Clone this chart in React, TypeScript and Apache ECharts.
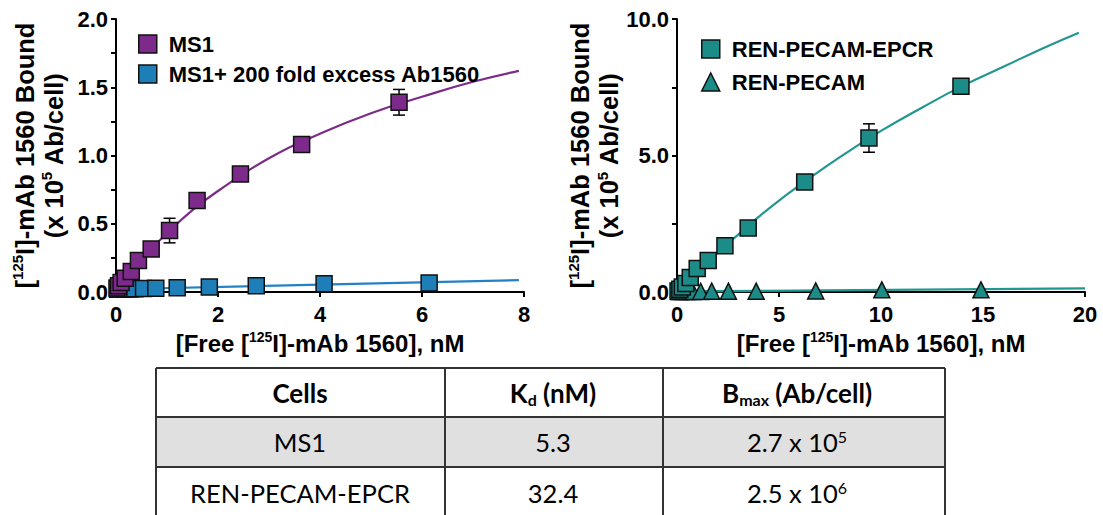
import React, { useEffect, useRef } from 'react';
import * as echarts from 'echarts';

// ---------- Data ----------
// Left panel: MS1 specific binding (purple squares)
const ms1X = [0.02, 0.05, 0.1, 0.18, 0.3, 0.44, 0.69, 1.05, 1.59, 2.44, 3.64, 5.55];
const ms1Y = [0.03, 0.046, 0.07, 0.1, 0.15, 0.23, 0.315, 0.45, 0.67, 0.864, 1.08, 1.39];
const ms1Err = [0, 0, 0, 0, 0, 0, 0, 0.09, 0, 0, 0, 0.094];
const ms1CurveX = [0, 0.25, 0.5, 1, 1.5, 2, 3, 4, 5, 6, 7, 7.9];
const ms1CurveY = [0, 0.12, 0.24, 0.43, 0.6, 0.74, 0.98, 1.16, 1.31, 1.43, 1.54, 1.62];

// Left panel: MS1 + 200 fold excess Ab1560 (blue squares)
const excessX = [0.03, 0.08, 0.17, 0.27, 0.37, 0.54, 0.78, 1.2, 1.83, 2.75, 4.08, 6.14];
const excessY = [0.02, 0.02, 0.022, 0.022, 0.024, 0.025, 0.027, 0.032, 0.037, 0.046, 0.06, 0.066];
const excessLineX = [0, 7.9];
const excessLineY = [0.02, 0.087];

// Right panel: REN-PECAM-EPCR (teal squares)
const epcrX = [0.05, 0.14, 0.26, 0.43, 0.65, 0.99, 1.53, 2.35, 3.49, 6.26, 9.41, 13.92];
const epcrY = [0.04, 0.1, 0.18, 0.31, 0.53, 0.86, 1.15, 1.69, 2.34, 4.03, 5.64, 7.54];
const epcrErr = [0, 0, 0, 0, 0, 0, 0, 0, 0, 0, 0.52, 0];
const epcrCurveX = [0, 1, 2, 3, 4, 5, 6, 8, 10, 12, 14, 16, 18, 19.7];
const epcrCurveY = [0, 0.75, 1.45, 2.1, 2.75, 3.35, 3.9, 4.95, 5.9, 6.75, 7.55, 8.25, 8.95, 9.5];

// Right panel: REN-PECAM (teal triangles)
const pecamX = [0.09, 0.17, 0.31, 0.51, 0.77, 1.16, 1.7, 2.52, 3.88, 6.8, 10.04, 14.9];
const pecamY = [0.02, 0.02, 0.02, 0.02, 0.02, 0.02, 0.03, 0.03, 0.03, 0.04, 0.08, 0.08];
const pecamLineX = [0, 20];
const pecamLineY = [0.02, 0.13];

// Axis ticks
const leftXTicks = { min: 0, max: 8, interval: 2 };
const leftYTicks = { min: 0, max: 2, interval: 0.5 };
const rightXTicks = { min: 0, max: 20, interval: 5 };
const rightYTicks = { min: 0, max: 10, interval: 5 };

// Legend names
const legendLeft = ['MS1', 'MS1+ 200 fold excess Ab1560'];
const legendRight = ['REN-PECAM-EPCR', 'REN-PECAM'];

// Table
const tableCells = ['MS1', 'REN-PECAM-EPCR'];
const tableKd = ['5.3', '32.4'];
const tableBmaxMant = ['2.7', '2.5'];
const tableBmaxExp = ['5', '6'];

// ---------- Styles ----------
const FONT = '"Liberation Sans", Arial, Helvetica, sans-serif';
const TFONT = 'Lato, "Open Sans", sans-serif';
const PURPLE = '#7d2b8a';
const PURPLE_LINE = '#7b2c86';
const BLUE = '#1e7fb8';
const BLUE_LINE = '#2282c4';
const TEAL = '#1b8c88';
const TEAL_LINE = '#229690';

const zip = (xs: number[], ys: number[]) => xs.map((x, i) => [x, ys[i]]);
const errData = (xs: number[], ys: number[], es: number[]) =>
  xs.map((x, i) => [x, ys[i], es[i]]).filter((d) => d[2] > 0);

const titleRich = {
  t: { fontSize: 24, fontWeight: 'bold', fontFamily: FONT, color: '#000', lineHeight: 27 },
  s: { fontSize: 14, fontWeight: 'bold', fontFamily: FONT, color: '#000', lineHeight: 10, verticalAlign: 'top' },
};
const yTitleRich = {
  t: { fontSize: 25.5, fontWeight: 'bold', fontFamily: FONT, color: '#000', lineHeight: 29 },
  s: { fontSize: 15, fontWeight: 'bold', fontFamily: FONT, color: '#000', lineHeight: 12, verticalAlign: 'top' },
};

const yName = '{t|[}{s|125}{t|I]-mAb 1560 Bound}\n{t|(x 10}{s|5}{t| Ab/cell)}';
const xName = '{t|[Free [}{s|125}{t|I]-mAb 1560], nM}';

function xAxis(gridIndex: number, t: { min: number; max: number; interval: number }) {
  return {
    type: 'value',
    gridIndex,
    min: t.min,
    max: t.max,
    interval: t.interval,
    axisLine: { show: true, onZero: false, lineStyle: { color: '#000', width: 2 } },
    axisTick: { show: true, length: 5, lineStyle: { color: '#000', width: 2 } },
    splitLine: { show: false },
    axisLabel: { color: '#000', fontFamily: FONT, fontWeight: 'bold', fontSize: 22, margin: 11 },
    name: xName,
    nameLocation: 'middle',
    nameGap: 37,
    nameTextStyle: { rich: titleRich },
  };
}

function yAxis(gridIndex: number, t: { min: number; max: number; interval: number }, gap: number) {
  return {
    type: 'value',
    gridIndex,
    min: t.min,
    max: t.max,
    interval: t.interval,
    axisLine: { show: true, onZero: false, lineStyle: { color: '#000', width: 2 } },
    axisTick: { show: true, length: 5, lineStyle: { color: '#000', width: 2 } },
    minorTick: { show: true, splitNumber: 2, length: 5, lineStyle: { color: '#000', width: 2 } },
    splitLine: { show: false },
    minorSplitLine: { show: false },
    axisLabel: {
      color: '#000',
      fontFamily: FONT,
      fontWeight: 'bold',
      fontSize: 22,
      margin: 8,
      formatter: (v: number) => v.toFixed(1),
    },
    name: yName,
    nameLocation: 'middle',
    nameGap: gap,
    nameTextStyle: { rich: yTitleRich },
  };
}

function errorSeries(idx: number, data: number[][]) {
  return {
    type: 'custom',
    xAxisIndex: idx,
    yAxisIndex: idx,
    z: 3,
    silent: true,
    encode: { x: 0, y: 1 },
    data,
    renderItem: (params: any, api: any) => {
      const x = api.value(0);
      const y = api.value(1);
      const e = api.value(2);
      const hi = api.coord([x, y + e]);
      const lo = api.coord([x, y - e]);
      const w = 6;
      const st = { stroke: '#000', lineWidth: 1.5 };
      return {
        type: 'group',
        children: [
          { type: 'line', shape: { x1: hi[0], y1: hi[1], x2: lo[0], y2: lo[1] }, style: st },
          { type: 'line', shape: { x1: hi[0] - w, y1: hi[1], x2: hi[0] + w, y2: hi[1] }, style: st },
          { type: 'line', shape: { x1: lo[0] - w, y1: lo[1], x2: lo[0] + w, y2: lo[1] }, style: st },
        ],
      };
    },
  };
}

function lineSeries(name: string, idx: number, data: number[][], color: string, smooth: boolean) {
  return {
    type: 'line',
    name,
    xAxisIndex: idx,
    yAxisIndex: idx,
    data,
    smooth,
    showSymbol: false,
    symbol: 'none',
    z: 2,
    lineStyle: { color, width: 2.2 },
  };
}

function scatterSeries(name: string, idx: number, data: number[][], color: string, symbol: string, size: number) {
  return {
    type: 'scatter',
    name,
    xAxisIndex: idx,
    yAxisIndex: idx,
    data,
    symbol,
    symbolSize: size,
    z: 4,
    itemStyle: { color, borderColor: '#111', borderWidth: 1.5, opacity: 1 },
  };
}

function legend(names: string[], left: number, top: number, gap: number, icons: string[], colors: string[]) {
  return {
    data: names.map((n, i) => ({ name: n, icon: icons[i], itemStyle: { color: colors[i], borderColor: '#111', borderWidth: 1.5 } })),
    orient: 'vertical',
    left,
    top,
    itemWidth: 18,
    itemHeight: 18,
    itemGap: gap,
    padding: 0,
    selectedMode: false,
    textStyle: { color: '#000', fontFamily: FONT, fontWeight: 'bold', fontSize: 22, padding: [0, 0, 0, 7] },
  };
}

// ---------- Table graphic ----------
const TX0 = 156;
const TX1 = 445;
const TX2 = 663;
const TX3 = 945;
const TY0 = 368;
const TY1 = 417;
const TY2 = 467;
const TYB = 515;
const colCenters = [300, 553, 797];
const rowCenters = [393, 442, 493];

const tableRich = {
  h: { fontSize: 26, fontWeight: 'bold', fontFamily: TFONT, color: '#000', lineHeight: 28 },
  hs: { fontSize: 16, fontWeight: 'bold', fontFamily: TFONT, color: '#000', lineHeight: 8, verticalAlign: 'bottom' },
  n: { fontSize: 25.5, fontFamily: TFONT, color: '#000', lineHeight: 28 },
  ns: { fontSize: 16, fontFamily: TFONT, color: '#000', lineHeight: 12, verticalAlign: 'top' },
};

function ttext(x: number, y: number, text: string) {
  return {
    type: 'text',
    x,
    y,
    z: 10,
    style: { text, rich: tableRich, align: 'center', verticalAlign: 'middle' },
  };
}

function tline(x1: number, y1: number, x2: number, y2: number) {
  return { type: 'line', z: 9, shape: { x1, y1, x2, y2 }, style: { stroke: '#333', lineWidth: 2 } };
}

const tableGraphic = [
  { type: 'rect', z: 8, shape: { x: TX0, y: TY1, width: TX3 - TX0, height: TY2 - TY1 }, style: { fill: '#e0e0e0' } },
  tline(TX0, TY0, TX3, TY0),
  tline(TX0, TY1, TX3, TY1),
  tline(TX0, TY2, TX3, TY2),
  tline(TX0, TY0, TX0, TYB),
  tline(TX1, TY0, TX1, TYB),
  tline(TX2, TY0, TX2, TYB),
  tline(TX3, TY0, TX3, TYB),
  ttext(colCenters[0], rowCenters[0], '{h|Cells}'),
  ttext(colCenters[1], rowCenters[0], '{h|K}{hs|d}{h| (nM)}'),
  ttext(colCenters[2], rowCenters[0], '{h|B}{hs|max}{h| (Ab/cell)}'),
  ...tableCells.flatMap((c, i) => [
    ttext(colCenters[0], rowCenters[i + 1], `{n|${c}}`),
    ttext(colCenters[1], rowCenters[i + 1], `{n|${tableKd[i]}}`),
    ttext(colCenters[2], rowCenters[i + 1], `{n|${tableBmaxMant[i]} x 10}{ns|${tableBmaxExp[i]}}`),
  ]),
];

export default function App() {
  const ref = useRef<HTMLDivElement>(null);
  useEffect(() => {
    if (!ref.current) return;
    const chart = echarts.init(ref.current, null, { renderer: 'svg' });
    const option: any = {
      animation: false,
      backgroundColor: '#fff',
      grid: [
        { left: 116, top: 19, width: 408, height: 273 },
        { left: 677, top: 19, width: 408, height: 273 },
      ],
      xAxis: [xAxis(0, leftXTicks), xAxis(1, rightXTicks)],
      yAxis: [yAxis(0, leftYTicks, 48), yAxis(1, rightYTicks, 51)],
      legend: [
        legend(legendLeft, 138, 33, 8, ['rect', 'rect'], [PURPLE, BLUE]),
        legend(legendRight, 701, 38, 11, ['rect', 'triangle'], [TEAL, TEAL]),
      ],
      series: [
        lineSeries('MS1 fit', 0, zip(ms1CurveX, ms1CurveY), PURPLE_LINE, true),
        lineSeries('Excess fit', 0, zip(excessLineX, excessLineY), BLUE_LINE, false),
        errorSeries(0, errData(ms1X, ms1Y, ms1Err)),
        scatterSeries(legendLeft[1], 0, zip(excessX, excessY), BLUE, 'rect', 16),
        scatterSeries(legendLeft[0], 0, zip(ms1X, ms1Y), PURPLE, 'rect', 16),
        lineSeries('EPCR fit', 1, zip(epcrCurveX, epcrCurveY), TEAL_LINE, true),
        lineSeries('PECAM fit', 1, zip(pecamLineX, pecamLineY), TEAL_LINE, false),
        errorSeries(1, errData(epcrX, epcrY, epcrErr)),
        scatterSeries(legendRight[1], 1, zip(pecamX, pecamY), TEAL, 'triangle', 16),
        scatterSeries(legendRight[0], 1, zip(epcrX, epcrY), TEAL, 'rect', 16),
      ],
      graphic: tableGraphic,
    };
    chart.setOption(option);
    return () => chart.dispose();
  }, []);
  return (
    <div
      ref={ref}
      style={{ position: 'absolute', left: 0, top: 0, width: 1103, height: 515, background: '#fff' }}
    />
  );
}
